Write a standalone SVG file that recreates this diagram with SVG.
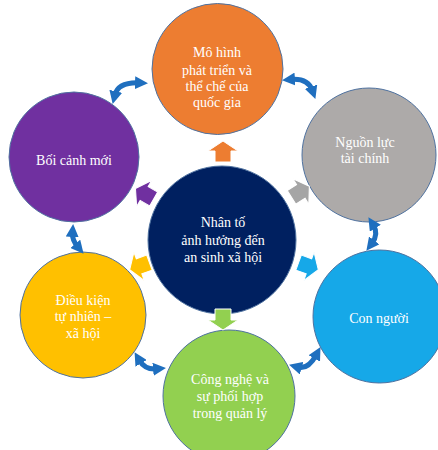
<svg xmlns="http://www.w3.org/2000/svg" width="438" height="450" viewBox="0 0 438 450">
<defs>
<marker id="ah" markerUnits="userSpaceOnUse" markerWidth="13" markerHeight="13" refX="4" refY="6.5" orient="auto-start-reverse" viewBox="0 0 13 13">
<path d="M0,0 L13,6.5 L0,13 Z" fill="#1F6FBF"/>
</marker>
<path id="blk" d="M-8,10 L8,10 L8,-1 L15,-1 L0,-11 L-15,-1 L-8,-1 Z"/>
</defs>
<style>
.c{stroke:#4F72A0;stroke-width:1}
.t{font-family:"Liberation Serif","Times New Roman",serif;font-size:14px;fill:#FFFFFF;text-anchor:middle}
.lk{fill:none;stroke:#1F6FBF;stroke-width:5;marker-start:url(#ah);marker-end:url(#ah)}
.ba{stroke:#FFFFFF;stroke-width:1}
</style>
<rect width="438" height="450" fill="#FFFFFF"/>
<g id="center">
<circle class="c" cx="222" cy="240" r="74" fill="#002060"/>
<text class="t" x="223" y="227">Nhân tố</text>
<text class="t" x="223" y="245">ảnh hưởng đến</text>
<text class="t" x="223" y="262">an sinh xã hội</text>
</g>
<g id="orange">
<circle class="c" cx="217.5" cy="69" r="65.5" fill="#ED7D31"/>
<text class="t" x="217" y="57">Mô hình</text>
<text class="t" x="217" y="75">phát triển và</text>
<text class="t" x="217" y="91">thể chế của</text>
<text class="t" x="217" y="107">quốc gia</text>
</g>
<g id="grey">
<circle class="c" cx="369" cy="155" r="67" fill="#ADAAA9"/>
<text class="t" x="365" y="147">Nguồn lực</text>
<text class="t" x="365" y="163">tài chính</text>
</g>
<g id="blue">
<circle class="c" cx="379.5" cy="316.5" r="66.5" fill="#16A8E8"/>
<text class="t" x="379" y="323">Con người</text>
</g>
<g id="green">
<circle class="c" cx="229" cy="396" r="66" fill="#92D050"/>
<text class="t" x="230" y="384">Công nghệ và</text>
<text class="t" x="230" y="401">sự phối hợp</text>
<text class="t" x="230" y="418">trong quản lý</text>
</g>
<g id="yellow">
<circle class="c" cx="83" cy="315" r="63" fill="#FFC000"/>
<text class="t" x="83" y="305">Điều kiện</text>
<text class="t" x="83" y="321">tự nhiên –</text>
<text class="t" x="83" y="338">xã hội</text>
</g>
<g id="purple">
<circle class="c" cx="74" cy="157" r="65" fill="#7030A0"/>
<text class="t" x="74" y="165">Bối cảnh mới</text>
</g>
<g id="connectors">
<path class="lk" d="M114.8,95.2 Q118,82 139,82.8"/>
<path class="lk" d="M291,79.4 Q308,78 312.4,90.5"/>
<path class="lk" d="M373.2,224.8 Q379,234 371.8,243.6"/>
<path class="lk" d="M72.5,233 Q72,240 77.8,246.9"/>
<path class="lk" d="M139.1,359.9 Q145,370 157,368.8"/>
<path class="lk" d="M297.7,367.1 Q308,370 316.2,355"/>
<use href="#blk" class="ba" fill="#ED7D31" transform="translate(223,152)"/>
<use href="#blk" class="ba" fill="#A5A5A5" stroke="#8A8A8A" transform="translate(300,192) rotate(58)"/>
<use href="#blk" class="ba" fill="#16A8E8" transform="translate(308,266) rotate(110)"/>
<use href="#blk" class="ba" fill="#92D050" transform="translate(223,319) rotate(180)"/>
<use href="#blk" class="ba" fill="#FFC000" transform="translate(140,266) rotate(250)"/>
<use href="#blk" class="ba" fill="#7030A0" transform="translate(145,194) rotate(-60)"/>
</g>
</svg>
